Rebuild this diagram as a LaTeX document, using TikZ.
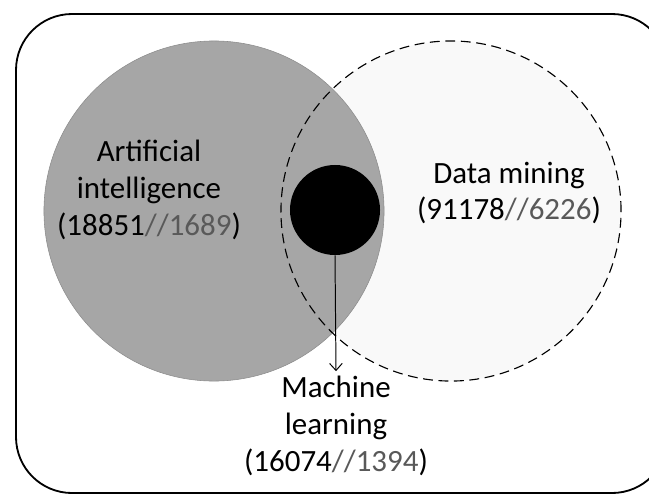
\documentclass[tikz,border=0pt]{standalone}
\usepackage{fontspec}
\setmainfont{Carlito}
\usetikzlibrary{arrows.meta}
\definecolor{aigray}{HTML}{A6A6A6}
\definecolor{dmfill}{HTML}{F9F9F9}
\definecolor{numgray}{HTML}{595959}
\tikzset{
  field/.style={circle,inner sep=0pt,minimum size=8.5cm},
  label/.style={align=center,font=\fontsize{22}{26.3}\selectfont},
  pointer/.style={-{Straight Barb[length=5pt,width=9pt]},line width=0.7pt}
}

\begin{document}
\begin{tikzpicture}[x=0.025cm,y=-0.025cm]
    \useasboundingbox (0,0) rectangle (649,495);
    \clip (0,0) rectangle (649,495);
    \draw[line width=1.3pt,rounded corners=1.4cm] (16,14) rectangle (668,493);
    \node[field,fill=dmfill] (dmback) at (451,211) {};
    \node[field,fill=aigray,draw=aigray!85!black,thin] (ai) at (214,211) {};
    \node[field,draw,dashed,line width=0.8pt,dash pattern=on 7pt off 4pt] (dm) at (451,211) {};
    \node[circle,fill=black,inner sep=0pt,minimum size=2.25cm] (ml) at (335,210) {};
    \node[label] (ailabel) at (149,190) {Artificial\\intelligence\\(18851\textcolor{numgray}{//1689})};
    \node[label] (dmlabel) at (509,193) {Data mining\\(91178\textcolor{numgray}{//6226})};
    \node[label] (mllabel) at (336,426) {Machine\\learning\\(16074\textcolor{numgray}{//1394})};
    \draw[pointer] (ml.south) -- (mllabel.north);
\end{tikzpicture}
\end{document}
